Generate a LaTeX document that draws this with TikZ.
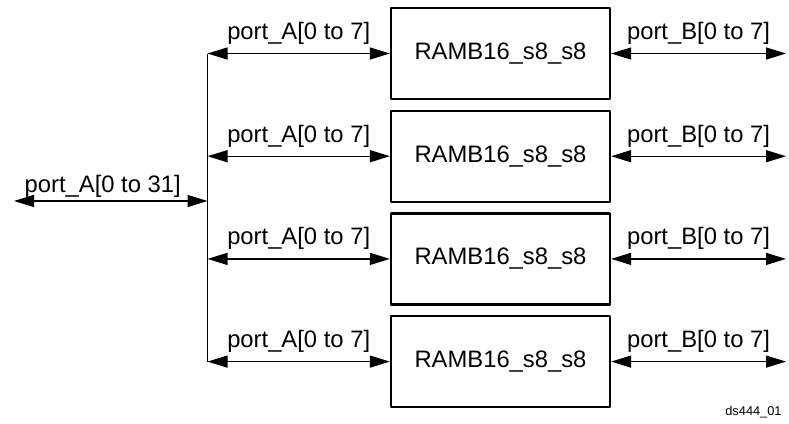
\documentclass[tikz,border=0pt]{standalone}
\usepackage{fontspec}
\setmainfont{Liberation Sans}
\usetikzlibrary{arrows.meta}
\tikzset{
  ram/.style={draw, line width=1.1pt, minimum width=109.5pt, minimum height=45.5pt, inner sep=0pt},
  bus/.style={line width=0.6pt},
  lbl/.style={anchor=base, inner sep=0pt, yshift=7pt}
}
\begin{document}
\begin{tikzpicture}[x=0.5pt, y=-0.5pt, font=\fontsize{11.9}{14}\selectfont, line join=round,
  >={Triangle[length=10pt,width=6pt]}]
\useasboundingbox (0,0) rectangle (789,424);
\coordinate (pa) at (14,201);
\coordinate (bus) at (207.5,201);
\foreach \i/\y in {1/53.5,2/156.2,3/258.9,4/361.6}{
  \node[ram] (ram\i) at (500.5,\y) {RAMB16\_s8\_s8};
  \coordinate (bus\i) at (207.5,\y);
  \coordinate (pb\i) at (786,\y);
  \draw[bus,<->] (bus\i) -- (ram\i.west) node[lbl,midway]{port\_A[0 to 7]};
  \draw[bus,<->] (ram\i.east) -- (pb\i) node[lbl,midway]{port\_B[0 to 7]};
}
\draw[bus] (bus1) -- (bus4);
\draw[bus,<->] (pa) -- (bus) node[lbl,midway,xshift=-4pt,yshift=-2.5pt]{port\_A[0 to 31]};
\node[anchor=base east, inner sep=0pt, font=\fontsize{6.4}{8}\selectfont] (tag) at (782,415) {ds444\_01};
\end{tikzpicture}
\end{document}
